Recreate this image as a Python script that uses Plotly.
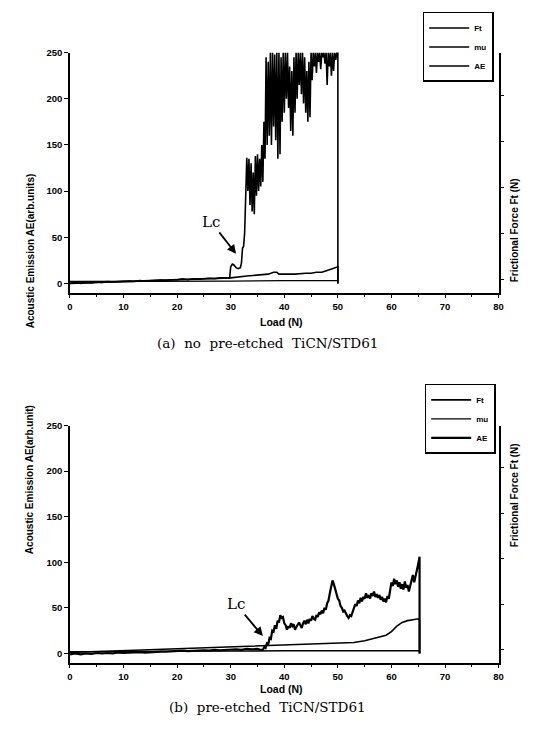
import plotly.graph_objects as go

# ---------------- data: (a) no pre-etched TiCN/STD61 ----------------
# Acoustic emission AE (arb. units) vs load (N)
ae_a_load = [0, 1, 2, 3, 4, 5, 6, 7, 8, 9, 10, 11, 12, 13, 14, 15, 16, 17, 18, 19,
             20, 21, 22, 23, 24, 25, 26, 27, 28, 29, 29.8, 30.0, 30.3, 30.6, 31.0, 31.4,
             31.8, 32.0, 32.2, 32.4, 32.6, 32.8,
             33.0, 33.2, 33.4, 33.6, 33.8, 34.0, 34.2, 34.4, 34.6, 34.8,
             35.0, 35.2, 35.4, 35.6, 35.8, 36.0, 36.2, 36.4, 36.6, 36.8,
             37.0, 37.2, 37.4, 37.6, 37.8, 38.0, 38.2, 38.4, 38.6, 38.8,
             39.0, 39.2, 39.4, 39.6, 39.8, 40.0, 40.2, 40.4, 40.6, 40.8,
             41.0, 41.2, 41.4, 41.6, 41.8, 42.0, 42.2, 42.4, 42.6, 42.8,
             43.0, 43.2, 43.4, 43.6, 43.8, 44.0, 44.2, 44.4, 44.6, 44.8,
             45.0, 45.2, 45.4, 45.6, 45.8, 46.0, 46.2, 46.4, 46.6, 46.8,
             47.0, 47.2, 47.4, 47.6, 47.8, 48.0, 48.2, 48.4, 48.6, 48.8,
             49.0, 49.2, 49.4, 49.6, 49.8, 50.0, 50.0]
ae_a = [0, 1, 0, 1, 0.5, 1.5, 1, 2, 1.5, 2, 2, 2.5, 2, 3, 2.5, 3, 3, 3.5, 3, 4,
        4, 5, 4, 5, 4.5, 5, 5.5, 5, 6, 6, 6, 18, 21, 20, 17, 16,
        17, 22, 38, 40, 55, 95,
        136, 100, 135, 85, 130, 78, 120, 75, 138, 95,
        140, 100, 135, 105, 150, 110, 175, 135, 245, 150,
        240, 160, 250, 150, 250, 170, 248, 155, 250, 135,
        250, 140, 245, 175, 250, 185, 250, 200, 250, 190,
        235, 165, 230, 160, 245, 185, 250, 200, 250, 215,
        250, 205, 250, 195, 245, 185, 230, 175, 240, 180,
        250, 220, 250, 235, 250, 228, 250, 240, 250, 232,
        250, 245, 250, 238, 250, 215, 250, 235, 250, 225,
        250, 230, 250, 242, 250, 250, 0]

# Frictional force Ft (N)
ft_a_load = [0, 5, 10, 15, 20, 25, 30, 33, 35, 37, 38, 38.6, 39, 40, 42, 44, 45, 46, 47, 48, 49, 50, 50]
ft_a = [0.92, 0.94, 0.96, 0.98, 1.00, 1.02, 1.04, 1.08, 1.10, 1.12, 1.16, 1.16, 1.12, 1.12,
        1.12, 1.14, 1.14, 1.16, 1.16, 1.20, 1.24, 1.28, 0.92]

# Friction coefficient mu
mu_a_load = [0, 10, 20, 30, 40, 50]
mu_a = [0.96, 0.96, 0.97, 0.97, 0.98, 0.98]

# ---------------- data: (b) pre-etched TiCN/STD61 ----------------
ae_b_load = [0, 1, 2, 3, 4, 5, 6, 7, 8, 9, 10, 11, 12, 13, 14, 15, 16, 17, 18, 19,
             20, 21, 22, 23, 24, 25, 26, 27, 28, 29, 30, 31, 32, 33, 34, 35, 35.5,
             36.00, 36.25, 36.50, 36.75, 37.00, 37.25, 37.50, 37.75, 38.00, 38.25,
             38.50, 38.75, 39.00, 39.25, 39.50, 39.75, 40.00, 40.25, 40.50, 40.75,
             41.00, 41.25, 41.50, 41.75, 42.00, 42.25, 42.50, 42.75, 43.00, 43.25,
             43.50, 43.75, 44.00, 44.25, 44.50, 44.75, 45.00, 45.25, 45.50, 45.75,
             46.00, 46.25, 46.50, 46.75, 47.00, 47.25, 47.50, 47.75, 48.00, 48.25,
             48.50, 48.75, 49.00, 49.25, 49.50, 49.75, 50.00, 50.25, 50.50, 50.75,
             51.00, 51.25, 51.50, 51.75, 52.00, 52.25, 52.50, 52.75, 53.00, 53.25,
             53.50, 53.75, 54.00, 54.25, 54.50, 54.75, 55.00, 55.25, 55.50, 55.75,
             56.00, 56.25, 56.50, 56.75, 57.00, 57.25, 57.50, 57.75, 58.00, 58.25,
             58.50, 58.75, 59.00, 59.25, 59.50, 59.75, 60.00, 60.25, 60.50, 60.75,
             61.00, 61.25, 61.50, 61.75, 62.00, 62.25, 62.50, 62.75, 63.00, 63.25,
             63.50, 63.75, 64.00, 64.25, 64.50, 64.75, 65.00, 65.25, 65.25]
ae_b = [-1, 0, -1, 0, -0.5, 0.5, 0, 0.5, 0, 1, 0.5, 1, 1, 1.5, 1, 1.5, 1.5, 2, 2, 2.5,
        2.5, 3, 2.5, 3, 3, 3.5, 3, 4, 3.5, 4, 4, 4.5, 4, 5, 4.5, 5, 4,
        4, 7, 6, 11, 10, 17, 16, 25, 24, 31,
        27, 36, 34, 42, 39, 40, 33, 31, 26, 30,
        28, 33, 30, 32, 26, 29, 31, 34, 31, 28,
        33, 36, 32, 37, 33, 38, 36, 41, 38, 37,
        42, 40, 45, 43, 47, 44, 50, 48, 55, 58,
        66, 74, 80, 76, 70, 66, 60, 58, 52, 50,
        46, 47, 43, 41, 39, 42, 41, 46, 50, 54,
        52, 58, 55, 61, 57, 62, 60, 66, 61, 64,
        60, 66, 63, 68, 62, 65, 61, 64, 59, 62,
        57, 60, 56, 63, 60, 72, 78, 74, 82, 76,
        80, 73, 78, 71, 76, 70, 79, 72, 75, 68,
        74, 82, 86, 78, 84, 92, 98, 106, 0]

ft_b_load = [0, 10, 20, 30, 36, 40, 45, 50, 53, 55, 57, 59, 60, 61, 62, 63, 64, 65, 65.25, 65.25]
ft_b = [0.94, 0.98, 1.02, 1.06, 1.08, 1.10, 1.12, 1.14, 1.16, 1.20, 1.26, 1.32, 1.40,
        1.52, 1.60, 1.64, 1.66, 1.68, 1.64, 0.92]

mu_b_load = [0, 10, 20, 30, 40, 50, 60, 65.25]
mu_b = [0.96, 0.96, 0.97, 0.97, 0.98, 0.98, 0.98, 0.98]

x_ticks = [0, 10, 20, 30, 40, 50, 60, 70, 80]
ae_ticks = [0, 50, 100, 150, 200, 250]
ft_ticks = [1, 2, 3, 4, 5]

BLACK = "#000000"
tickfont = dict(family="Liberation Sans", size=9.5, color=BLACK, weight="bold")

fig = go.Figure()

# panel (a)
fig.add_trace(go.Scatter(x=ft_a_load, y=ft_a, name="Ft", mode="lines", xaxis="x", yaxis="y2",
                         line=dict(color=BLACK, width=1.6), legend="legend"))
fig.add_trace(go.Scatter(x=mu_a_load, y=mu_a, name="mu", mode="lines", xaxis="x", yaxis="y2",
                         line=dict(color=BLACK, width=1.4), legend="legend"))
fig.add_trace(go.Scatter(x=ae_a_load, y=ae_a, name="AE", mode="lines", xaxis="x", yaxis="y",
                         line=dict(color=BLACK, width=1.6), legend="legend"))
# panel (b)
fig.add_trace(go.Scatter(x=ft_b_load, y=ft_b, name="Ft", mode="lines", xaxis="x2", yaxis="y4",
                         line=dict(color=BLACK, width=1.6), legend="legend2"))
fig.add_trace(go.Scatter(x=mu_b_load, y=mu_b, name="mu", mode="lines", xaxis="x2", yaxis="y4",
                         line=dict(color=BLACK, width=1.4), legend="legend2"))
fig.add_trace(go.Scatter(x=ae_b_load, y=ae_b, name="AE", mode="lines", xaxis="x2", yaxis="y3",
                         line=dict(color=BLACK, width=2.2), legend="legend2"))

W, H = 543, 730
xdom = [68 / W, 503 / W]
top_dom = [1 - 289 / H, 1 - 47 / H]
bot_dom = [1 - 662 / H, 1 - 423 / H]

xcommon = dict(range=[0, 80], tickvals=x_ticks, ticks="outside", ticklen=4, tickwidth=1.3,
               tickcolor=BLACK, showline=True, linecolor=BLACK, linewidth=1.6,
               showgrid=False, zeroline=False, tickfont=tickfont, domain=xdom,
               minor=dict(dtick=5, ticks="outside", ticklen=2.5, tickcolor=BLACK, tickwidth=1))
ycommon = dict(range=[-10, 250], tickvals=ae_ticks, ticks="outside", ticklen=4, tickwidth=1.3,
               tickcolor=BLACK, showline=True, linecolor=BLACK, linewidth=1.6,
               showgrid=False, zeroline=False, tickfont=tickfont)
y2common = dict(range=[0.72, 5.92], tickvals=ft_ticks, ticks="outside", ticklen=4, tickwidth=1.3,
                tickcolor=BLACK, showline=True, linecolor=BLACK, linewidth=1.6,
                showgrid=False, zeroline=False, showticklabels=False, side="right")

legcommon = dict(xanchor="left", yanchor="top", bgcolor="white", bordercolor=BLACK,
                 borderwidth=1.5, font=dict(family="Liberation Sans", size=8, color=BLACK, weight="bold"),
                 itemwidth=40, tracegroupgap=0)

fig.update_layout(
    width=W, height=H, margin=dict(l=0, r=0, t=0, b=0),
    paper_bgcolor="white", plot_bgcolor="white", showlegend=True,
    xaxis=dict(anchor="y", **xcommon),
    yaxis=dict(anchor="x", domain=top_dom, **ycommon),
    yaxis2=dict(anchor="x", overlaying="y", **y2common),
    xaxis2=dict(anchor="y3", **xcommon),
    yaxis3=dict(anchor="x2", domain=bot_dom, **ycommon),
    yaxis4=dict(anchor="x2", overlaying="y3", **y2common),
    legend=dict(x=426 / W, y=1 - 6 / H, **legcommon),
    legend2=dict(x=428 / W, y=1 - 381 / H, **legcommon),
)

title_font = dict(family="Liberation Sans", size=10, color=BLACK, weight="bold")
serif = dict(family="DejaVu Serif", size=13.5, color=BLACK)
ann = []
# axis titles (panel a)
ann.append(dict(text="Acoustic Emission AE(arb.units)", x=20 / W, y=1 - 167 / H, textangle=-90,
                font=title_font, showarrow=False, xref="paper", yref="paper"))
ann.append(dict(text="Frictional Force Ft (N)", x=527 / W, y=1 - 172 / H, textangle=-90,
                font=title_font, showarrow=False, xref="paper", yref="paper"))
ann.append(dict(text="Load (N)", x=283 / W, y=1 - 319 / H, font=dict(title_font, size=10.5),
                showarrow=False, xref="paper", yref="paper"))
ann.append(dict(text="(a)\u00a0 no\u00a0 pre-etched\u00a0 TiCN/STD61", x=268 / W, y=1 - 340 / H,
                font=serif, showarrow=False, xref="paper", yref="paper"))
# axis titles (panel b)
ann.append(dict(text="Acoustic Emission AE(arb.unit)", x=20 / W, y=1 - 555 / H, textangle=-90,
                font=title_font, showarrow=False, xref="paper", yref="paper"))
ann.append(dict(text="Frictional Force Ft (N)", x=527 / W, y=1 - 548 / H, textangle=-90,
                font=title_font, showarrow=False, xref="paper", yref="paper"))
ann.append(dict(text="Load (N)", x=283 / W, y=1 - 697 / H, font=dict(title_font, size=10.5),
                showarrow=False, xref="paper", yref="paper"))
ann.append(dict(text="(b)\u00a0 pre-etched\u00a0 TiCN/STD61", x=268 / W, y=1 - 717 / H,
                font=serif, showarrow=False, xref="paper", yref="paper"))
# Lc markers
lc_font = dict(family="DejaVu Serif", size=15, color=BLACK)
ann.append(dict(text="Lc", x=31.0, y=32, xref="x", yref="y", ax=-25, ay=-32,
                showarrow=True, arrowhead=2, arrowsize=1, arrowwidth=1.8, arrowcolor=BLACK,
                font=lc_font))
ann.append(dict(text="Lc", x=36.0, y=19, xref="x2", yref="y3", ax=-27, ay=-32,
                showarrow=True, arrowhead=2, arrowsize=1, arrowwidth=1.8, arrowcolor=BLACK,
                font=lc_font))
fig.update_layout(annotations=ann)

fig.write_html("out.html")
